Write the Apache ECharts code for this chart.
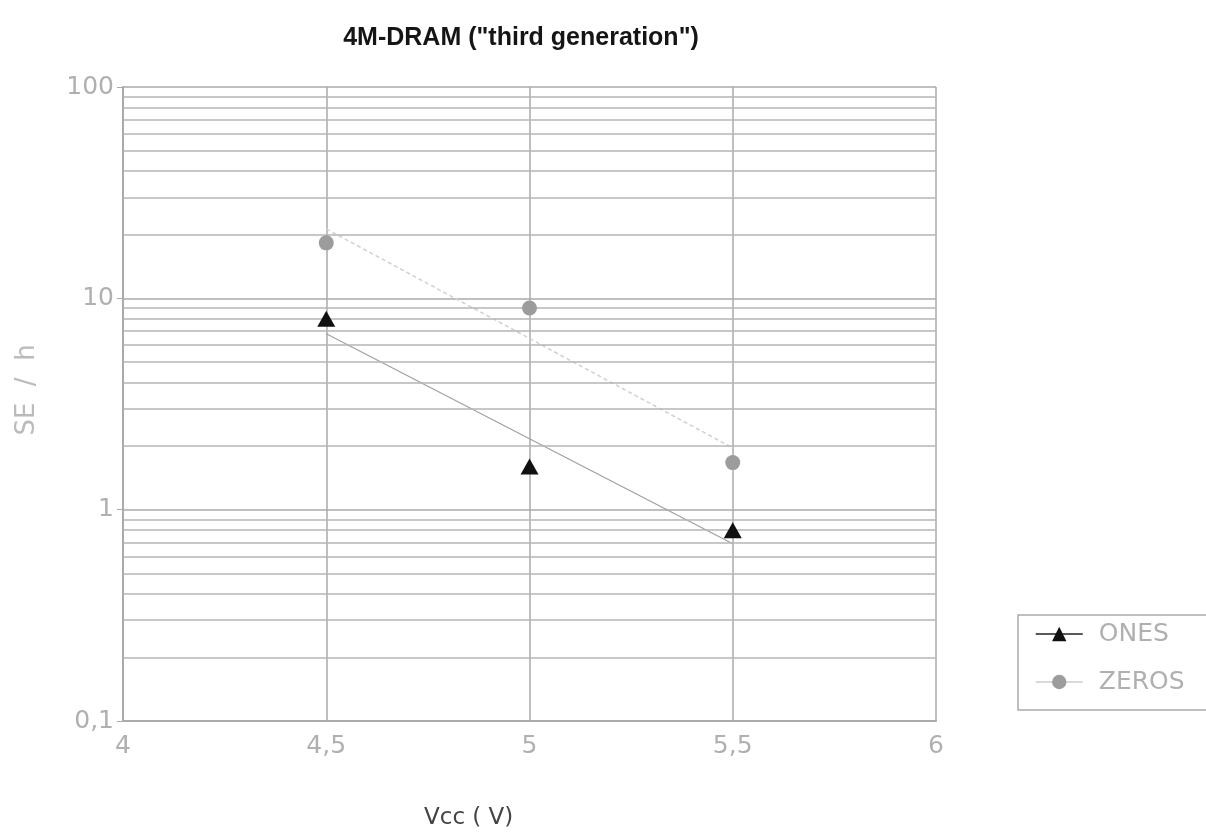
<!DOCTYPE html>
<html><head><meta charset="utf-8">
<script src="https://cdn.jsdelivr.net/npm/echarts@6/dist/echarts.min.js"></script>
<style>html,body{margin:0;padding:0;background:#fff}#c{width:1206px;height:833px}</style>
</head><body><div id="c"></div>
<script>
var titleText = '4M-DRAM ("third generation")';
var xName = 'Vcc ( V)';
var yName = 'SE  /  h';
var vcc = [4.5, 5, 5.5];
var ones = [8.0, 1.6, 0.80];
var zeros = [18.3, 9.0, 1.67];
var trendX = [4.5, 5.5];
var onesTrend = [6.8, 0.69];
var zerosTrend = [21.3, 1.96];
var minorGrid = [0.2,0.3,0.4,0.5,0.6,0.7,0.8,0.9,2,3,4,5,6,7,8,9,20,30,40,50,60,70,80,90];

function pairs(xs, ys){ return xs.map(function(x,i){return [x, ys[i]];}); }
var titleF = '"Liberation Sans", Arial, sans-serif';
var lightF = '"DejaVu Sans ExtraLight", "DejaVu Sans", sans-serif';
var chart = echarts.init(document.getElementById('c'));
chart.setOption({
  animation: false,
  backgroundColor: '#fff',
  title: { text: titleText, left: 516, top: 21, textAlign: 'center',
    textStyle: { fontFamily: titleF, fontSize: 25, fontWeight: 'bold', color: '#151515' } },
  grid: { left: 123, right: 270, top: 87, bottom: 112 },
  legend: {
    left: 1018, top: 615, orient: 'vertical', itemGap: 22,
    padding: [6, 40, 15, 17],
    borderColor: '#aaa', borderWidth: 1.5, borderRadius: 0,
    itemWidth: 47, itemHeight: 18,
    textStyle: { fontFamily: lightF, fontSize: 25, color: '#b0b0b0', lineHeight: 26, padding: [0, 0, 0, 11] },
    data: [
      { name: 'ONES', lineStyle: { width: 1.5, color: '#222', opacity: 1 } },
      { name: 'ZEROS', lineStyle: { width: 1.5, color: '#ccc', opacity: 1 } }
    ]
  },
  graphic: [
    { type: 'text', left: 424, top: 807, style: { text: xName, fontFamily: '"DejaVu Sans", sans-serif', fontSize: 23, fill: '#444' } },
    { type: 'text', x: 27, y: 390, rotation: Math.PI/2, style: { text: yName, fontFamily: lightF, fontSize: 26, fill: '#bbb', align: 'center', verticalAlign: 'middle' } }
  ],
  xAxis: {
    type: 'value', min: 4, max: 6, interval: 0.5,
    axisLine: { show: true, lineStyle: { color: '#aaa', width: 2 } },
    axisTick: { show: false },
    axisLabel: { margin: 13, fontFamily: lightF, fontSize: 25, color: '#b0b0b0',
      formatter: function(v){ return String(v).replace('.', ','); } },
    splitLine: { show: true, lineStyle: { color: '#aaa', width: 1.5 } }
  },
  yAxis: {
    type: 'log', logBase: 10, min: 0.1, max: 100,
    axisLine: { show: true, lineStyle: { color: '#aaa', width: 2 } },
    axisTick: { show: true, length: 6, lineStyle: { color: '#aaa' } },
    axisLabel: { margin: 9, fontFamily: lightF, fontSize: 25, color: '#b0b0b0',
      formatter: function(v){ return String(v).replace('.', ','); } },
    splitLine: { show: true, lineStyle: { color: '#aaa', width: 1.5 } }
  },
  series: [
    { name: 'grid', type: 'line', data: [], silent: true,
      markLine: { silent: true, symbol: 'none', label: { show: false },
        lineStyle: { color: '#b5b5b5', width: 1.5, type: 'solid' },
        data: minorGrid.map(function(v){ return { yAxis: v }; }) } },
    { name: 'onesTrend', type: 'line', data: pairs(trendX, onesTrend), symbol: 'none',
      lineStyle: { color: '#a0a0a0', width: 1.2 }, z: 3 },
    { name: 'zerosTrend', type: 'line', data: pairs(trendX, zerosTrend), symbol: 'none',
      lineStyle: { color: '#d0d0d0', width: 1.5, type: [4, 3] }, z: 3 },
    { name: 'ONES', type: 'line', data: pairs(vcc, ones), symbol: 'triangle', symbolSize: [18, 16],
      itemStyle: { color: '#111' }, lineStyle: { width: 0, color: '#222' }, z: 5 },
    { name: 'ZEROS', type: 'line', data: pairs(vcc, zeros), symbol: 'circle', symbolSize: 15,
      itemStyle: { color: '#9c9c9c' }, lineStyle: { width: 0, color: '#ccc' }, z: 5 }
  ]
});
</script></body></html>
